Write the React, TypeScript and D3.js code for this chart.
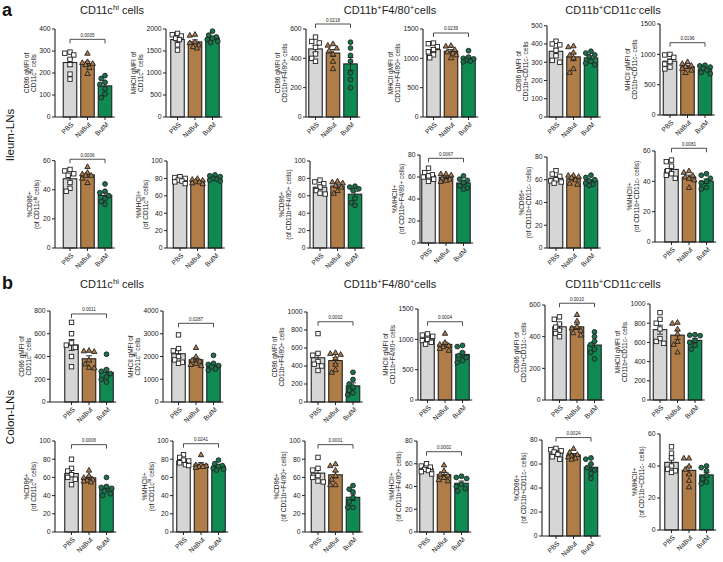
import React from 'react';
import * as d3 from 'd3';

const GROUPS = ['PBS', 'NaBut', 'ButM'];
const BAR_FILL = ['#d6d6d6', '#b07c47', '#0e8a52'];
const PT_FILL = ['#ffffff', '#b07c47', '#16734a'];
const INK = '#222222';
const FONT = 'Arial, "Liberation Sans", Helvetica, sans-serif';

// ---- Ileum-LNs (a) ----
const ilCd86Chi = [[295, 290, 282, 262, 238, 195, 172], [290, 252, 248, 244, 238, 225, 198], [188, 175, 158, 148, 128, 105, 88]];
const ilMhcChi = [[1900, 1870, 1840, 1790, 1760, 1640, 1520], [1880, 1860, 1710, 1690, 1640, 1600, 1570], [1950, 1860, 1820, 1790, 1760, 1720, 1690]];
const ilCd86F480 = [[545, 515, 505, 475, 430, 400, 380], [500, 490, 470, 455, 430, 380, 330], [510, 470, 420, 380, 300, 255, 200]];
const ilMhcF480 = [[1260, 1250, 1200, 1150, 1110, 1060, 1010], [1220, 1210, 1150, 1110, 1090, 1060, 1010], [1130, 1020, 1000, 990, 970, 950, 940]];
const ilCd86C = [[415, 400, 395, 365, 335, 310, 300], [390, 385, 355, 340, 325, 265, 245], [360, 350, 340, 330, 305, 295, 285]];
const ilMhcC = [[1000, 990, 950, 880, 840, 790, 760], [880, 850, 820, 800, 770, 740, 700], [820, 810, 790, 770, 740, 700, 680]];
const ilPctCd86Chi = [[54, 53, 51, 50, 45, 41, 39], [56, 52, 51, 50, 50, 48, 45], [44, 39, 38, 36, 34, 32, 30]];
const ilPctMhcChi = [[82, 81, 80, 78, 77, 76, 74], [80, 79, 78, 77, 76, 75, 74], [84, 83, 82, 80, 79, 78, 77]];
const ilPctCd86F480 = [[78, 76, 74, 70, 66, 63, 62], [77, 76, 75, 72, 70, 66, 63], [71, 70, 68, 66, 57, 52, 49]];
const ilPctMhcF480 = [[68, 64, 62, 61, 60, 58, 56], [63, 63, 62, 59, 58, 57, 56], [61, 58, 57, 55, 52, 50, 49]];
const ilPctCd86C = [[68, 65, 63, 60, 59, 58, 57], [64, 64, 63, 62, 60, 57, 56], [64, 62, 60, 59, 57, 56, 55]];
const ilPctMhcC = [[54, 53, 50, 47, 45, 44, 42], [47, 46, 44, 43, 42, 41, 36], [45, 44, 42, 40, 39, 36, 35]];

// ---- Colon-LNs (b) ----
const coCd86Chi = [[700, 600, 520, 500, 480, 400, 310], [455, 450, 445, 370, 335, 305, 300], [420, 285, 270, 250, 220, 200, 175]];
const coMhcChi = [[2950, 2350, 2250, 2000, 1850, 1750, 1700], [2400, 2000, 1850, 1800, 1700, 1650, 1600], [2050, 1700, 1650, 1600, 1550, 1450, 1400]];
const coCd86F480 = [[760, 540, 520, 450, 420, 400, 350], [550, 540, 530, 490, 420, 360, 330], [330, 250, 200, 165, 130, 100, 80]];
const coMhcF480 = [[1090, 1070, 1050, 1000, 980, 950, 920], [1100, 950, 920, 900, 880, 850, 820], [900, 880, 780, 730, 700, 650, 620]];
const coCd86C = [[525, 510, 480, 460, 440, 420, 400], [540, 500, 465, 455, 440, 425, 410], [430, 400, 370, 350, 320, 300, 260]];
const coMhcC = [[910, 840, 800, 740, 640, 610, 590], [810, 800, 740, 690, 610, 580, 500], [680, 675, 670, 620, 600, 570, 530]];
const coPctCd86Chi = [[80, 70, 67, 63, 60, 58, 52], [68, 62, 60, 58, 57, 56, 55], [60, 50, 49, 48, 45, 42, 40]];
const coPctMhcChi = [[85, 82, 79, 78, 76, 74, 73], [85, 74, 74, 73, 72, 72, 71], [79, 75, 73, 72, 70, 69, 68]];
const coPctCd86F480 = [[82, 70, 68, 62, 60, 56, 55], [75, 73, 68, 62, 58, 52, 52], [51, 47, 44, 38, 33, 27, 27]];
const coPctMhcF480 = [[60, 58, 57, 55, 54, 53, 51], [59, 54, 51, 50, 48, 46, 45], [49, 48, 47, 42, 40, 38, 36]];
const coPctCd86C = [[73, 72, 71, 70, 68, 66, 64], [73, 70, 68, 67, 66, 65, 64], [65, 64, 60, 57, 55, 52, 48]];
const coPctMhcC = [[52, 48, 45, 40, 38, 37, 36], [45, 45, 40, 38, 35, 31, 27], [40, 39, 37, 34, 32, 30, 29]];

// p-values (null = none), and bracket heights in data units
const pValues = [
  '0.0005', null, '0.0218', '0.0239', null, '0.0196',
  '0.0006', null, null, '0.0067', null, '0.0081',
  '0.0011', '0.0287', '0.0002', '0.0004', '0.0010', null,
  '0.0006', '0.0241', '0.0001', '0.0002', '0.0024', null,
];
const bracketValues = [
  353, 0, 634, 1432, 0, 1192,
  61, 0, 0, 77, 0, 61.8,
  774, 3459, 892, 1290, 611, 0,
  96, 97, 96, 70.6, 82, 0,
];
const yMaxes = [400, 2000, 600, 1500, 500, 1500, 60, 100, 100, 80, 80, 60, 800, 4000, 1000, 1500, 600, 1000, 100, 100, 100, 80, 80, 60];
const tickSteps = [100, 500, 200, 500, 100, 500, 20, 20, 20, 20, 20, 20, 200, 1000, 200, 500, 200, 200, 20, 20, 20, 20, 20, 20];

const gmfiLabels = [
  ['CD86 gMFI of', 'CD11c^{hi} cells'],
  ['MHCII gMFI of', 'CD11c^{hi} cells'],
  ['CD86 gMFI of', 'CD11b+F4/80+ cells'],
  ['MHCII gMFI of', 'CD11b+F4/80+ cells'],
  ['CD86 gMFI of', 'CD11b+CD11c- cells'],
  ['MHCII gMFI of', 'CD11b+CD11c- cells'],
];
const pctLabels = [
  ['%CD86+', '(of CD11c^{hi} cells)'],
  ['%MHCII+', '(of CD11c^{hi} cells)'],
  ['%CD86+', '(of CD11b+F4/80+ cells)'],
  ['%MHCII+', '(of CD11b+F4/80+ cells)'],
  ['%CD86+', '(of CD11b+CD11c- cells)'],
  ['%MHCII+', '(of CD11b+CD11c- cells)'],
];

const panelData = [
  ilCd86Chi, ilMhcChi, ilCd86F480, ilMhcF480, ilCd86C, ilMhcC,
  ilPctCd86Chi, ilPctMhcChi, ilPctCd86F480, ilPctMhcF480, ilPctCd86C, ilPctMhcC,
  coCd86Chi, coMhcChi, coCd86F480, coMhcF480, coCd86C, coMhcC,
  coPctCd86Chi, coPctMhcChi, coPctCd86F480, coPctMhcF480, coPctCd86C, coPctMhcC,
];
const panelLabels = [...gmfiLabels, ...pctLabels, ...gmfiLabels, ...pctLabels];

const titles = ['CD11c^{hi} cells', 'CD11b^{+}F4/80^{+}cells', 'CD11b^{+}CD11c^{-}cells'];

// layout: axis x, first bar center, top y, bottom y
const layout = [
  [55, 70, 29, 117], [166, 177.5, 29, 117], [306, 315.5, 29, 117], [423, 433.5, 29, 117], [547, 556, 25.7, 117], [660, 670, 24, 115],
  [55, 70, 160.7, 248], [167, 180, 161, 248], [310, 320, 161, 248], [420, 428.5, 155, 243], [547, 556, 157, 248], [655, 671.5, 151, 242],
  [50, 71.5, 311, 402], [163, 178.5, 311, 402], [307, 318, 312, 402], [418, 427.5, 309, 400], [545, 559.5, 305, 400], [650, 660, 304, 400],
  [55, 71.5, 441, 532], [173, 183.5, 441, 532], [305, 318, 441, 532], [417, 426.5, 441, 532], [542, 556, 440, 536], [660, 671.5, 434, 530],
];

const STEP = 17.5;
const BAR_W = 13.5;

function Rich({ text, x, y, size, anchor = 'middle', transform }: any) {
  const parts = text.split(/\^\{([^}]*)\}/);
  const nodes: any[] = [];
  let shifted = false;
  parts.forEach((p: string, i: number) => {
    if (p === '') return;
    const sup = i % 2 === 1;
    let dy = 0;
    if (sup && !shifted) { dy = -size * 0.4; shifted = true; }
    else if (!sup && shifted) { dy = size * 0.4; shifted = false; }
    nodes.push(
      <tspan key={i} dy={dy} fontSize={sup ? size * 0.7 : size}>{p}</tspan>
    );
  });
  return (
    <text x={x} y={y} textAnchor={anchor} fontFamily={FONT} fontSize={size} fill={INK} transform={transform}>
      {nodes}
    </text>
  );
}

function swarm(ys: number[], radius: number) {
  const cands = [0, -3.8, 3.8, -1.9, 1.9, -5.2, 5.2];
  const placed: { x: number; y: number }[] = [];
  return ys.map((y) => {
    let best = 0;
    let bestD = -1;
    for (const c of cands) {
      let minD = Infinity;
      for (const p of placed) minD = Math.min(minD, Math.hypot(p.x - c, p.y - y));
      if (minD >= radius * 2) { best = c; bestD = Infinity; break; }
      if (minD > bestD) { bestD = minD; best = c; }
    }
    placed.push({ x: best, y });
    return best;
  });
}

function Marker({ g, x, y }: any) {
  const common = { stroke: INK, strokeWidth: 0.9, fill: PT_FILL[g] };
  if (g === 0) return <rect x={x - 2.2} y={y - 2.2} width={4.4} height={4.4} {...common} />;
  if (g === 1) {
    const s = 2.7;
    return <path d={`M${x},${y - s}L${x + s},${y + s * 0.75}L${x - s},${y + s * 0.75}Z`} {...common} />;
  }
  return <circle cx={x} cy={y} r={2.4} {...common} />;
}

function Panel({ idx }: { idx: number }) {
  const [ax, x0, top, bottom] = layout[idx];
  const yMax = yMaxes[idx];
  const step = tickSteps[idx];
  const data = panelData[idx];
  const y = d3.scaleLinear().domain([0, yMax]).range([bottom, top]);
  const ticks = d3.range(0, yMax + step / 2, step);
  const x = d3.scalePoint<string>().domain(GROUPS).range([x0, x0 + 2 * STEP]);
  const xEnd = x0 + 2 * STEP + BAR_W / 2 + 3;
  const tickFont = 6.8;
  const maxLen = d3.max(ticks, (t) => String(t).length) as number;
  const labelX = ax - 5 - maxLen * 3.8 - 3;
  const midY = (top + bottom) / 2;
  const [l1, l2] = panelLabels[idx];
  const p = pValues[idx];

  return (
    <g>
      {data.map((vals, g) => {
        const m = d3.mean(vals) as number;
        const cx = x(GROUPS[g]) as number;
        return (
          <rect key={'b' + g} x={cx - BAR_W / 2} y={y(m)} width={BAR_W} height={bottom - y(m)}
            fill={BAR_FILL[g]} stroke={INK} strokeWidth={1.1} />
        );
      })}
      {data.map((vals, g) => {
        const m = d3.mean(vals) as number;
        const sem = (d3.deviation(vals) as number) / Math.sqrt(vals.length);
        const cx = x(GROUPS[g]) as number;
        return (
          <g key={'e' + g} stroke={INK} strokeWidth={0.9}>
            <line x1={cx} x2={cx} y1={y(m - sem)} y2={y(m + sem)} />
            <line x1={cx - 3} x2={cx + 3} y1={y(m + sem)} y2={y(m + sem)} />
            <line x1={cx - 3} x2={cx + 3} y1={y(m - sem)} y2={y(m - sem)} />
          </g>
        );
      })}
      {data.map((vals, g) => {
        const cx = x(GROUPS[g]) as number;
        const sorted = [...vals].sort((a, b) => b - a);
        const ys = sorted.map((v) => y(v));
        const offs = swarm(ys, 2.3);
        return (
          <g key={'p' + g}>
            {sorted.map((v, i) => <Marker key={i} g={g} x={cx + offs[i]} y={ys[i]} />)}
          </g>
        );
      })}
      <line x1={ax} x2={ax} y1={bottom} y2={top} stroke={INK} strokeWidth={1.1} />
      {ticks.map((t) => (
        <g key={'t' + t}>
          <line x1={ax - 3} x2={ax} y1={y(t)} y2={y(t)} stroke={INK} strokeWidth={1} />
          <text x={ax - 4.5} y={y(t)} dy="0.35em" textAnchor="end" fontFamily={FONT} fontSize={tickFont} fill={INK}>{t}</text>
        </g>
      ))}
      <line x1={ax} x2={xEnd} y1={bottom} y2={bottom} stroke={INK} strokeWidth={1.1} />
      {GROUPS.map((gname) => {
        const cx = x(gname) as number;
        return (
          <g key={'x' + gname}>
            <line x1={cx} x2={cx} y1={bottom} y2={bottom + 3} stroke={INK} strokeWidth={1} />
            <text x={cx + 2.5} y={bottom + 6.5} textAnchor="end" fontFamily={FONT} fontSize={tickFont} fill={INK}
              transform={`rotate(-45, ${cx + 2.5}, ${bottom + 6.5})`} dy="0.3em">{gname}</text>
          </g>
        );
      })}
      <Rich text={l1} x={labelX - 7} y={midY} size={6.5} transform={`rotate(-90, ${labelX - 7}, ${midY})`} />
      <Rich text={l2} x={labelX} y={midY} size={6.5} transform={`rotate(-90, ${labelX}, ${midY})`} />
      {p && (() => {
        const by = y(bracketValues[idx]);
        const xa = x('PBS') as number;
        const xb = x('ButM') as number;
        return (
          <g>
            <path d={`M${xa},${by + 4}V${by}H${xb}V${by + 4}`} fill="none" stroke={INK} strokeWidth={0.8} />
            <text x={(xa + xb) / 2} y={by - 2.5} textAnchor="middle" fontFamily={FONT} fontSize={4.6} fill={INK}>{p}</text>
          </g>
        );
      })()}
    </g>
  );
}

export default function App() {
  const titleX = [112, 390, 613];
  return (
    <svg width={723} height={562} style={{ position: 'absolute', left: 0, top: 0, background: '#fff' }}>
      <rect width={723} height={562} fill="#fff" />
      <text x={2} y={16} fontFamily={FONT} fontSize={18} fontWeight="bold" fill="#111">a</text>
      <text x={2} y={289} fontFamily={FONT} fontSize={18} fontWeight="bold" fill="#111">b</text>
      {titles.map((t, i) => <Rich key={'ta' + i} text={t} x={titleX[i]} y={14} size={11} />)}
      {titles.map((t, i) => <Rich key={'tb' + i} text={t} x={titleX[i]} y={288} size={11} />)}
      <text x={14} y={135} transform="rotate(-90, 14, 135)" textAnchor="middle" fontFamily={FONT} fontSize={11.5} fill="#111">Ileum-LNs</text>
      <text x={14} y={417} transform="rotate(-90, 14, 417)" textAnchor="middle" fontFamily={FONT} fontSize={11.5} fill="#111">Colon-LNs</text>
      {layout.map((_, i) => <Panel key={i} idx={i} />)}
    </svg>
  );
}
